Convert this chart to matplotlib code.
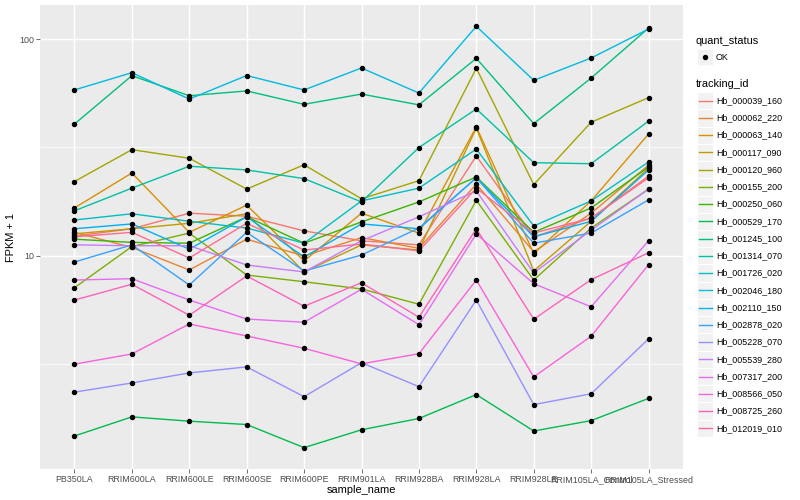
import numpy as np
import matplotlib
matplotlib.use("Agg")
import matplotlib.pyplot as plt
from matplotlib.patches import Rectangle
from matplotlib.lines import Line2D

plt.rcParams['font.family'] = ['Liberation Sans', 'DejaVu Sans']

samples = ["PB350LA", "RRIM600LA", "RRIM600LE", "RRIM600SE", "RRIM600PE",
           "RRIM901LA", "RRIM928BA", "RRIM928LA", "RRIM928LE",
           "RRIM105LA_Control", "RRIM105LA_Stressed"]

tracking_ids = ["Hb_000039_160", "Hb_000062_220", "Hb_000063_140", "Hb_000117_090",
                "Hb_000120_960", "Hb_000155_200", "Hb_000250_060", "Hb_000529_170",
                "Hb_001245_100", "Hb_001314_070", "Hb_001726_020", "Hb_002046_180",
                "Hb_002110_150", "Hb_002878_020", "Hb_005228_070", "Hb_005539_280",
                "Hb_007317_200", "Hb_008566_050", "Hb_008725_260", "Hb_012019_010"]

colors = ["#F8766D", "#EA8331", "#D89000", "#C09B00", "#A3A500", "#7CAE00",
          "#39B600", "#00BB4E", "#00BF7D", "#00C1A3", "#00BFC4", "#00BAE0",
          "#00B0F6", "#35A2FF", "#9590FF", "#C77CFF", "#E76BF3", "#FA62DB",
          "#FF62BC", "#FF6C91"]

# FPKM + 1 values, one list per tracking_id (order of samples)
Hb_000039_160 = [12.3, 13.3, 15.7, 15.2, 13.0, 11.7, 11.2, 28.9, 12.2, 14.9, 23.3]
Hb_000062_220 = [12.8, 10.9, 8.57, 11.9, 9.95, 12.1, 10.8, 21.4, 10.4, 15.7, 26.2]
Hb_000063_140 = [16.6, 24.1, 12.8, 17.1, 9.43, 15.7, 12.7, 39.4, 10.2, 17.9, 36.5]
Hb_000117_090 = [12.6, 13.3, 14.1, 15.6, 8.39, 11.2, 10.6, 38.9, 8.48, 14.4, 25.4]
Hb_000120_960 = [22.0, 30.9, 28.2, 20.3, 26.3, 18.3, 22.2, 73.6, 21.3, 41.4, 53.8]
Hb_000155_200 = [7.09, 11.0, 12.7, 8.12, 7.56, 7.00, 5.95, 18.0, 7.70, 13.4, 20.3]
Hb_000250_060 = [11.9, 11.5, 11.4, 15.1, 11.4, 14.3, 17.7, 23.1, 12.8, 16.6, 25.7]
Hb_000529_170 = [1.46, 1.79, 1.71, 1.65, 1.29, 1.56, 1.76, 2.27, 1.54, 1.72, 2.18]
Hb_001245_100 = [40.6, 68.0, 54.9, 57.8, 50.1, 55.9, 49.8, 81.8, 40.8, 66.3, 113.0]
Hb_001314_070 = [16.1, 20.5, 25.9, 24.9, 22.7, 17.7, 31.6, 47.7, 26.9, 26.6, 41.9]
Hb_001726_020 = [14.6, 15.6, 14.4, 13.4, 11.4, 17.9, 20.5, 31.1, 13.7, 17.9, 27.1]
Hb_002046_180 = [58.4, 70.2, 53.0, 68.1, 58.4, 73.8, 56.5, 115.1, 64.7, 82.1, 111.8]
Hb_002110_150 = [13.3, 14.0, 10.7, 15.1, 9.84, 14.0, 13.3, 22.9, 12.2, 14.4, 24.9]
Hb_002878_020 = [9.33, 11.2, 7.30, 12.8, 8.48, 10.05, 13.4, 22.9, 11.4, 12.7, 18.1]
Hb_005228_070 = [2.33, 2.57, 2.86, 3.05, 2.22, 3.19, 2.47, 6.22, 2.04, 2.29, 4.11]
Hb_005539_280 = [11.2, 11.1, 11.1, 9.04, 8.39, 11.7, 15.1, 19.9, 8.30, 13.1, 20.3]
Hb_007317_200 = [7.70, 7.81, 6.22, 5.08, 4.91, 6.98, 4.78, 12.6, 7.40, 5.79, 11.7]
Hb_008566_050 = [3.14, 3.50, 4.82, 4.24, 3.72, 3.15, 3.51, 7.70, 2.74, 4.23, 9.07]
Hb_008725_260 = [6.22, 7.36, 5.29, 8.04, 5.82, 7.48, 5.18, 13.3, 5.07, 7.73, 10.3]
Hb_012019_010 = [12.2, 12.8, 9.74, 14.1, 10.6, 11.3, 10.5, 20.5, 12.7, 14.9, 22.9]

series = [Hb_000039_160, Hb_000062_220, Hb_000063_140, Hb_000117_090, Hb_000120_960,
          Hb_000155_200, Hb_000250_060, Hb_000529_170, Hb_001245_100, Hb_001314_070,
          Hb_001726_020, Hb_002046_180, Hb_002110_150, Hb_002878_020, Hb_005228_070,
          Hb_005539_280, Hb_007317_200, Hb_008566_050, Hb_008725_260, Hb_012019_010]

W, H = 800, 500
fig = plt.figure(figsize=(8, 5), dpi=100)
L, R, T, B = 40, 683, 5, 469
ax = fig.add_axes([L / W, 1 - B / H, (R - L) / W, (B - T) / H])
ax.set_facecolor("#EBEBEB")
for s in ax.spines.values():
    s.set_visible(False)

x = np.arange(len(samples))
ax.set_yscale("log")
ax.set_xlim(-0.6, len(samples) - 0.4)
ax.set_ylim(10 ** 0.0116, 10 ** 2.1597)

# grid
for v in [10 ** 0.5, 10 ** 1.5]:
    ax.axhline(v, color="white", lw=0.55, zorder=0)
for v in [10, 100]:
    ax.axhline(v, color="white", lw=1.05, zorder=0)
for xi in x:
    ax.axvline(xi, color="white", lw=1.05, zorder=0)

for vals, c in zip(series, colors):
    ax.plot(x, vals, color=c, lw=1.0, zorder=2)
for vals in series:
    ax.plot(x, vals, ls="none", marker="o", ms=2.9, color="black", zorder=3)

ax.set_xticks(x)
ax.set_xticklabels(samples, fontsize=6.4, color="#4D4D4D")
ax.set_yticks([10, 100])
ax.set_yticklabels(["10", "100"], fontsize=6.4, color="#4D4D4D")
ax.yaxis.set_minor_locator(matplotlib.ticker.NullLocator())
ax.tick_params(axis="both", length=2.7, width=0.5, color="#333333", pad=1.5)
ax.set_xlabel("sample_name", fontsize=7.9, labelpad=1)
ax.set_ylabel("FPKM + 1", fontsize=7.9, labelpad=2)

def fx(px):
    return px / W

def fy(py):
    return 1 - py / H

# legend: quant_status
fig.text(fx(696), fy(40.5), "quant_status", fontsize=7.9, va="center", ha="left")
fig.add_artist(Rectangle((fx(697), fy(65)), 16 / W, 16 / H, transform=fig.transFigure,
                         facecolor="#F2F2F2", edgecolor="white", lw=0.5))
fig.add_artist(Line2D([fx(705)], [fy(57)], transform=fig.transFigure, marker="o",
                      ms=2.9, color="black", ls="none"))
fig.text(fx(716), fy(57), "OK", fontsize=6.4, va="center", ha="left")

# legend: tracking_id
fig.text(fx(696), fy(84), "tracking_id", fontsize=7.9, va="center", ha="left")
y0, dy = 100.7, 17.24
for i, (name, c) in enumerate(zip(tracking_ids, colors)):
    yc = y0 + i * dy
    fig.add_artist(Rectangle((fx(697), fy(yc + dy / 2)), 16 / W, dy / H,
                             transform=fig.transFigure, facecolor="#F2F2F2",
                             edgecolor="white", lw=0.8))
    fig.add_artist(Line2D([fx(698.5), fx(711.5)], [fy(yc), fy(yc)],
                          transform=fig.transFigure, color=c, lw=1.0))
    fig.text(fx(716), fy(yc), name, fontsize=6.4, va="center", ha="left")

fig.savefig("out.png", dpi=100)
